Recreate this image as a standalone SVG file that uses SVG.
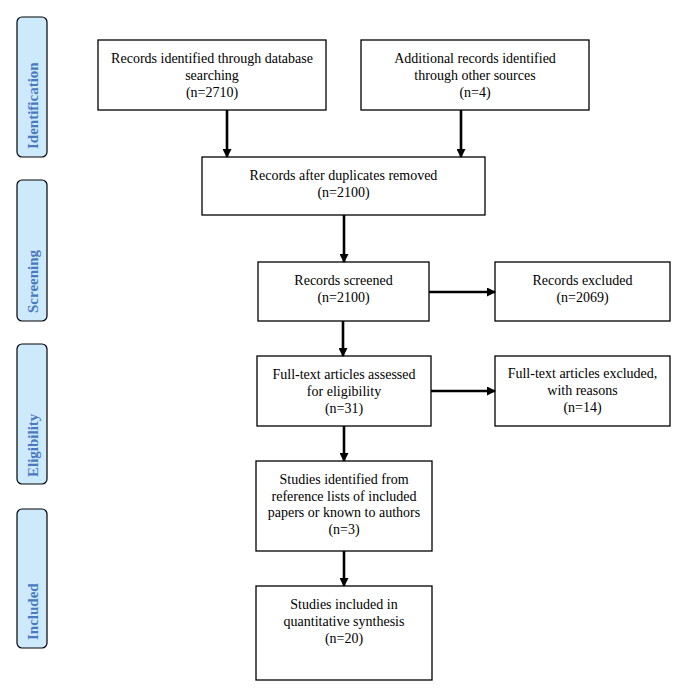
<svg xmlns="http://www.w3.org/2000/svg" width="685" height="688" viewBox="0 0 685 688">
<style>
.box{fill:#fff;stroke:#000;stroke-width:1.3}
.t{font-family:"Liberation Serif","Times New Roman",serif;font-size:14px;fill:#000;text-anchor:middle}
.phase{fill:#cdeafd;stroke:#000;stroke-width:1.2}
.pt{font-family:"Liberation Serif","Times New Roman",serif;font-size:15px;font-weight:bold;fill:#4a78c2}
.c{stroke:#000;stroke-width:2.6;fill:none;marker-end:url(#ah)}
</style>
<defs>
<marker id="ah" markerWidth="9" markerHeight="9" refX="8" refY="4.5" orient="auto" markerUnits="userSpaceOnUse">
<path d="M0,0 L9,4.5 L0,9 Z" fill="#000"/>
</marker>
</defs>
<rect width="685" height="688" fill="#fff"/>
<g id="phase-identification"><rect class="phase" x="17" y="17" width="30" height="140" rx="5"/><text class="pt" transform="translate(38,149) rotate(-90)">Identification</text></g>
<g id="phase-screening"><rect class="phase" x="17" y="180" width="30" height="141" rx="5"/><text class="pt" transform="translate(38,313) rotate(-90)">Screening</text></g>
<g id="phase-eligibility"><rect class="phase" x="17" y="344" width="30" height="140" rx="5"/><text class="pt" transform="translate(38,477) rotate(-90)">Eligibility</text></g>
<g id="phase-included"><rect class="phase" x="17" y="509" width="30" height="139" rx="5"/><text class="pt" transform="translate(38,640) rotate(-90)">Included</text></g>

<g id="n1"><rect class="box" x="98" y="40" width="228" height="70"/><text class="t" x="212" y="63">Records identified through database</text><text class="t" x="212" y="80">searching</text><text class="t" x="212" y="97">(n=2710)</text></g>
<g id="n2"><rect class="box" x="361" y="40" width="228" height="70"/><text class="t" x="475" y="63">Additional records identified</text><text class="t" x="475" y="80">through other sources</text><text class="t" x="475" y="97">(n=4)</text></g>
<g id="n3"><rect class="box" x="202" y="157" width="283" height="58"/><text class="t" x="343.5" y="180">Records after duplicates removed</text><text class="t" x="343.5" y="197">(n=2100)</text></g>
<g id="n4"><rect class="box" x="258" y="262" width="171" height="59"/><text class="t" x="343.5" y="285">Records screened</text><text class="t" x="343.5" y="302">(n=2100)</text></g>
<g id="n5"><rect class="box" x="495" y="262" width="175" height="59"/><text class="t" x="582.5" y="285">Records excluded</text><text class="t" x="582.5" y="302">(n=2069)</text></g>
<g id="n6"><rect class="box" x="257" y="356" width="174" height="70"/><text class="t" x="344" y="379">Full-text articles assessed</text><text class="t" x="344" y="396">for eligibility</text><text class="t" x="344" y="413">(n=31)</text></g>
<g id="n7"><rect class="box" x="495" y="356" width="175" height="70"/><text class="t" x="582.5" y="378">Full-text articles excluded,</text><text class="t" x="582.5" y="395">with reasons</text><text class="t" x="582.5" y="412">(n=14)</text></g>
<g id="n8"><rect class="box" x="256" y="461" width="176" height="90"/><text class="t" x="344" y="484">Studies identified from</text><text class="t" x="344" y="500.5">reference lists of included</text><text class="t" x="344" y="517">papers or known to authors</text><text class="t" x="344" y="533.5">(n=3)</text></g>
<g id="n9"><rect class="box" x="256" y="586" width="176" height="94"/><text class="t" x="344" y="609">Studies included in</text><text class="t" x="344" y="626">quantitative synthesis</text><text class="t" x="344" y="643">(n=20)</text></g>

<g id="connectors">
<line class="c" x1="227" y1="110" x2="227" y2="157"/>
<line class="c" x1="461" y1="110" x2="461" y2="157"/>
<line class="c" x1="344" y1="215" x2="344" y2="262"/>
<line class="c" x1="343" y1="321" x2="343" y2="356"/>
<line class="c" x1="344" y1="426" x2="344" y2="461"/>
<line class="c" x1="344" y1="551" x2="344" y2="586"/>
<line class="c" x1="429" y1="292" x2="495" y2="292"/>
<line class="c" x1="431" y1="391" x2="495" y2="391"/>
</g>
</svg>
